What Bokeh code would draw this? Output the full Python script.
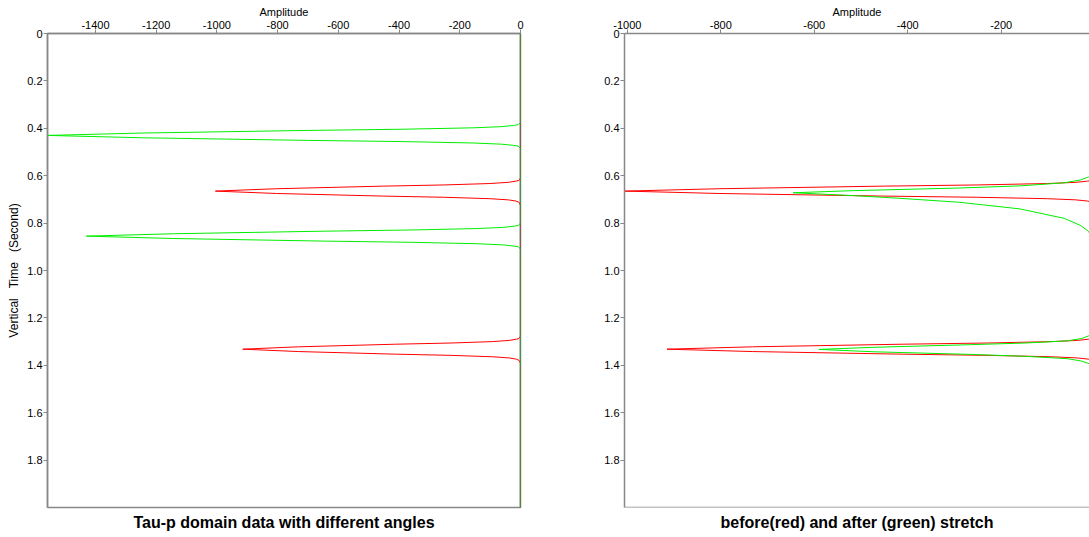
from bokeh.plotting import figure
from bokeh.layouts import row
from bokeh.models import (Range1d, LinearAxis, FixedTicker, PrintfTickFormatter,
                          Title, Span)
from bokeh.embed import file_html
from bokeh.resources import INLINE

# ---------------- data ----------------
# Left panel: Tau-p domain traces (time in s, amplitude)
left_green_time = [0.0, 0.375, 0.385, 0.388, 0.393, 0.398, 0.404, 0.409, 0.420, 0.430,
                   0.440, 0.451, 0.456, 0.462, 0.467, 0.472, 0.475, 0.485,
                   0.800, 0.810, 0.813, 0.818, 0.823, 0.829, 0.834, 0.845, 0.855,
                   0.865, 0.876, 0.881, 0.887, 0.892, 0.897, 0.900, 0.910, 2.0]
left_green_amp = [0, 0, -8, -23, -62, -156, -390, -701, -1246, -1558,
                  -1246, -701, -390, -156, -62, -23, -8, 0,
                  0, -7, -21, -57, -143, -358, -644, -1144, -1430,
                  -1144, -644, -358, -143, -57, -21, -7, 0, 0]

red_time = [0.0, 0.610, 0.620, 0.623, 0.628, 0.633, 0.639, 0.644, 0.655, 0.665,
            0.675, 0.686, 0.691, 0.697, 0.702, 0.707, 0.712, 0.725,
            1.277, 1.287, 1.290, 1.295, 1.300, 1.306, 1.311, 1.322, 1.332,
            1.342, 1.353, 1.358, 1.364, 1.369, 1.374, 1.379, 1.390, 2.0]
red_amp = [0, 0, -5, -15, -40, -101, -251, -452, -804, -1005,
           -804, -452, -251, -101, -40, -15, -5, 0,
           0, -5, -14, -37, -92, -229, -412, -732, -915,
           -732, -412, -229, -92, -37, -14, -5, 0, 0]

# Right panel: after stretch (green)
right_green_time = [0.0, 0.540, 0.590, 0.605, 0.618, 0.630, 0.643, 0.652, 0.663, 0.672,
                    0.684, 0.695, 0.712, 0.740, 0.780, 0.810, 0.835, 0.870, 0.930,
                    1.230, 1.262, 1.275, 1.287, 1.297, 1.306, 1.313, 1.324, 1.333,
                    1.343, 1.354, 1.362, 1.372, 1.382, 1.393, 1.402, 1.430, 2.0]
right_green_amp = [0, 0, -5, -13, -30, -65, -160, -290, -516, -645,
                   -516, -420, -290, -160, -65, -30, -13, -5, 0,
                   0, -5, -12, -28, -59, -148, -266, -472, -590,
                   -472, -266, -148, -59, -28, -12, -5, 0, 0]

y_ticks = [0, 0.2, 0.4, 0.6, 0.8, 1.0, 1.2, 1.4, 1.6, 1.8]
left_x_ticks = [-1400, -1200, -1000, -800, -600, -400, -200, 0]
right_x_ticks = [-1000, -800, -600, -400, -200, 0]

left_title = "Tau-p domain data with different angles"
right_title = "before(red) and after (green) stretch"
x_label = "Amplitude"
y_label = "Vertical\u00a0\u00a0\u00a0Time\u00a0\u00a0\u00a0(Second)"

FONT = "Liberation Sans"
AXIS_COLOR = "#888888"


def make_panel(x_start, x_end, ticks, title, with_ylabel, border_left, border_right,
               frame_w, outline):
    p = figure(frame_width=frame_w, frame_height=474,
               x_range=Range1d(x_start, x_end), y_range=Range1d(2.0, 0.0),
               x_axis_location=None, y_axis_location=None,
               toolbar_location=None, output_backend="svg",
               min_border_left=border_left, min_border_right=border_right,
               min_border_top=33, min_border_bottom=30)
    p.grid.visible = False
    p.background_fill_color = "white"
    p.border_fill_color = "white"
    if outline:
        p.outline_line_color = AXIS_COLOR
        p.outline_line_width = 1.5
    else:
        p.outline_line_color = None
        p.add_layout(Span(location=2.0, dimension="width", line_color=AXIS_COLOR,
                          line_width=1.5))

    xa = LinearAxis(ticker=FixedTicker(ticks=ticks),
                    formatter=PrintfTickFormatter(format="%d"),
                    axis_label=x_label)
    ya = LinearAxis(ticker=FixedTicker(ticks=y_ticks),
                    formatter=PrintfTickFormatter(format="%.1f"),
                    axis_label=y_label if with_ylabel else None)
    ya.major_label_overrides = {0: "0"}
    for ax in (xa, ya):
        ax.axis_line_color = AXIS_COLOR
        ax.axis_line_width = 1.5
        ax.major_tick_line_color = AXIS_COLOR
        ax.major_tick_in = 0
        ax.major_tick_out = 4
        ax.minor_tick_line_color = None
        ax.major_label_text_font = FONT
        ax.major_label_text_font_size = "11px"
        ax.major_label_text_color = "black"
        ax.major_label_standoff = 1
        ax.axis_label_text_font = FONT
        ax.axis_label_text_font_size = "11px"
        ax.axis_label_text_font_style = "normal"
        ax.axis_label_text_color = "black"
        ax.axis_label_standoff = 0
    ya.axis_label_text_font_size = "12px"
    ya.axis_label_standoff = 3
    p.add_layout(xa, "above")
    p.add_layout(ya, "left")

    t = Title(text=title, align="center", text_font=FONT, text_font_size="16px",
              text_font_style="bold", text_color="black", standoff=8)
    p.add_layout(t, "below")
    return p


p1 = make_panel(-1558, 0, left_x_ticks, left_title, True, 47, 40, 473, True)
p1.line(red_amp, red_time, line_color="#ff0000", line_width=1)
p1.line(left_green_amp, left_green_time, line_color="#00ee00", line_width=1)
p1.add_layout(Span(location=0, dimension="height", line_color="#4a7040",
                   line_width=1.5, level="overlay"))

p2 = make_panel(-1006, -11, right_x_ticks, right_title, False, 64, 0, 465, False)
p2.line(red_amp, red_time, line_color="#ff0000", line_width=1)
p2.line(right_green_amp, right_green_time, line_color="#00ee00", line_width=1)

layout = row(p1, p2)
open("out.html", "w").write(file_html(layout, INLINE))
